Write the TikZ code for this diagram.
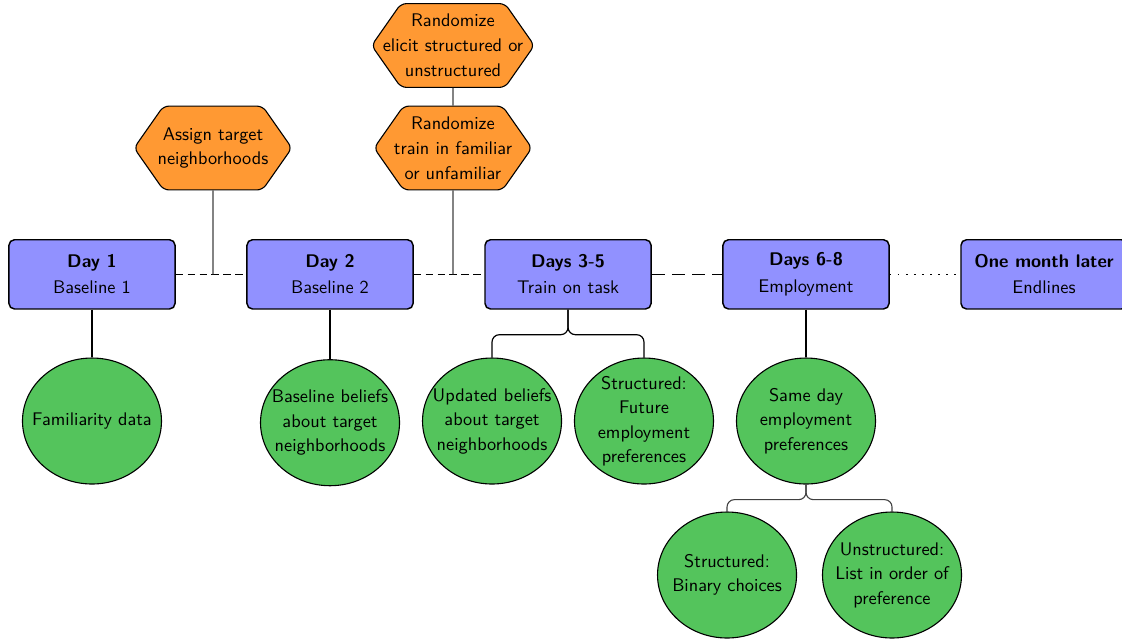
\documentclass[tikz,border=0pt]{standalone}
\usepackage{tikz}
\usetikzlibrary{shapes.geometric, shapes.symbols, calc}
\definecolor{dayblue}{RGB}{145, 145, 255}
\definecolor{randorange}{RGB}{255, 153, 51}
\definecolor{outgreen}{RGB}{84, 196, 92}

\begin{document}
\begin{tikzpicture}[
  daybox/.style={draw, thick, rounded corners=3pt, fill=dayblue, minimum width=3.19cm, minimum height=1.33cm, align=center, font=\sffamily\fontsize{10}{14.4}\selectfont, inner sep=2pt},
  randhex/.style={signal, signal to=east and west, signal pointer angle=110, draw, semithick, rounded corners=3pt, fill=randorange, minimum width=3.03cm, minimum height=1.61cm, inner xsep=-0.35cm, inner ysep=2pt, align=center, font=\sffamily\fontsize{10}{13.6}\selectfont},
  outcirc/.style={ellipse, draw, semithick, fill=outgreen, minimum width=2.67cm, minimum height=2.42cm, inner xsep=-0.25cm, inner ysep=-0.1cm, align=center, font=\sffamily\fontsize{10}{13.4}\selectfont},
  link/.style={line width=0.65pt},
  hexlink/.style={line width=0.6pt, black!75},
  shortdash/.style={semithick, dash pattern=on 4pt off 2.5pt},
  longdash/.style={semithick, dash pattern=on 7pt off 4pt},
  laterdot/.style={line width=0.9pt, dash pattern=on 0.9pt off 3.5pt}
]
  \useasboundingbox (0,0) rectangle (21.552,-12.313);

  % Timeline
  \node[daybox] (d1) at (1.767, -5.27) {\textbf{Day 1}\\Baseline 1};
  \node[daybox] (d2) at (6.339, -5.27) {\textbf{Day 2}\\Baseline 2};
  \node[daybox] (d35) at (10.911, -5.27) {\textbf{Days 3-5}\\Train on task};
  \node[daybox] (d68) at (15.482, -5.27) {\textbf{Days 6-8}\\Employment};
  \node[daybox] (d1m) at (20.054, -5.27) {\textbf{One month later}\\Endlines};

  \draw[shortdash] (d1) -- (d2);
  \draw[shortdash] (d2) -- (d35);
  \draw[longdash] (d35) -- (d68);
  \draw[laterdot] (d68) -- (d1m);

  % Randomization
  \node[randhex] (assign) at (4.091, -2.843) {Assign target\\neighborhoods};
  \node[randhex] (train) at (8.701, -2.843) {Randomize\\train in familiar\\or unfamiliar};
  \node[randhex] (elicit) at (8.701, -0.874) {Randomize\\elicit structured or\\unstructured};

  \coordinate (t12) at (assign.south |- d1.east);
  \coordinate (t23) at (train.south |- d2.east);
  \draw[hexlink] (assign) -- (t12);
  \draw[hexlink] (elicit) -- (train);
  \draw[hexlink] (train) -- (t23);

  % Outcomes
  \node[outcirc] (fam) at (1.767, -8.087) {Familiarity data};
  \node[outcirc] (base) at (6.339, -8.12) {Baseline beliefs\\about target\\neighborhoods};
  \node[outcirc] (upd) at (9.451, -8.087) {Updated beliefs\\about target\\neighborhoods};
  \node[outcirc] (fut) at (12.370, -8.087) {Structured:\\Future\\employment\\preferences};
  \node[outcirc] (same) at (15.482, -8.087) {Same day\\employment\\preferences};
  \node[outcirc] (bin) at (13.965, -11.045) {Structured:\\Binary choices};
  \node[outcirc] (list) at (17.134, -11.045) {Unstructured:\\List in order of\\preference};

  \draw[link] (d1) -- (fam);
  \draw[link] (d2) -- (base);
  \draw[link] (d68) -- (same);
  \draw[link, rounded corners=4pt] (d35.south) -- ++(0,-0.48) -| (upd.north);
  \draw[link, rounded corners=4pt] (d35.south) -- ++(0,-0.48) -| (fut.north);
  \draw[hexlink, rounded corners=4pt] (same.south) -- ++(0,-0.29) -| (bin.north);
  \draw[hexlink, rounded corners=4pt] (same.south) -- ++(0,-0.29) -| (list.north);
\end{tikzpicture}
\end{document}
